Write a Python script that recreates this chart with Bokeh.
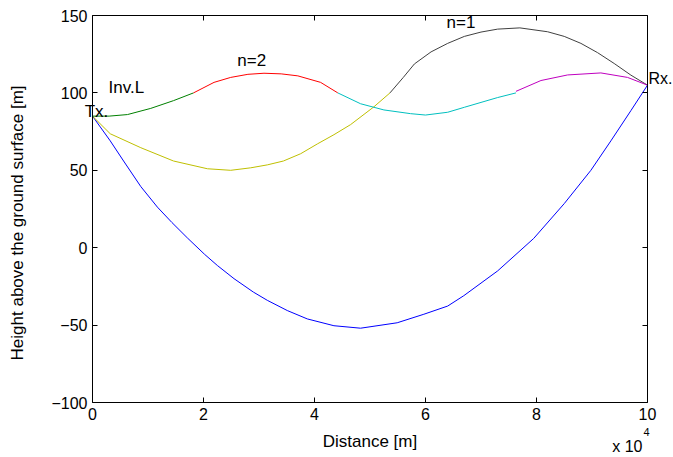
import math
from bokeh.plotting import figure
from bokeh.models import LinearAxis, FixedTicker, Label
from bokeh.embed import file_html
from bokeh.resources import INLINE

# Distance in units of 1e4 m, heights in m above the ground surface
inv_x = [0, 0.32, 0.56, 0.87, 1.17, 1.43, 1.71, 2.02, 2.25, 2.55, 2.9, 3.15, 3.51, 3.87,
         4.35, 4.83, 5.49, 5.97, 6.4, 6.69, 7.3, 7.95, 8.5, 8.98, 9.34, 9.7, 10]
inv_y = [85, 69, 56, 39.5, 26.2, 16.3, 6.3, -4.3, -11.5, -20, -28.7, -34, -40.6, -46,
         -50.4, -52, -48.5, -43, -37.7, -31, -15, 6, 28.5, 50, 69, 88.5, 105]

low_x = [0, 0.32, 0.87, 1.46, 2.07, 2.49, 2.85, 3.15, 3.44, 3.75, 4.05, 4.35, 4.65, 5.07, 5.36]
low_y = [85, 73.6, 64.6, 56, 51, 50, 51.6, 53.5, 56, 60.7, 67, 73, 79.5, 91, 100]

n1_x = [5.36, 5.6, 5.8, 6.1, 6.4, 6.7, 7.0, 7.3, 7.7, 8.2, 8.5, 8.8, 9.1, 9.4, 9.7, 10]
n1_y = [100, 110, 118.7, 126.5, 132, 136.5, 139.3, 141.2, 142, 139.5, 136.5, 132, 126, 119, 111.5, 105]

green_x = [0, 0.3, 0.63, 1.05, 1.46, 1.82]
green_y = [85, 85, 86, 90, 95, 100]

red_x = [1.82, 2.19, 2.49, 2.8, 3.09, 3.4, 3.7, 4.11, 4.42]
red_y = [100, 106.8, 110, 112, 112.7, 112.3, 111, 106.8, 100]

cyan_x = [4.42, 4.83, 5.25, 5.73, 6.0, 6.4, 6.7, 7.3, 7.63]
cyan_y = [100, 93, 89, 86.6, 85.7, 87.5, 90.7, 97, 100]

mag_x = [7.63, 8.08, 8.56, 9.16, 9.64, 10]
mag_y = [101, 108, 111.6, 112.9, 110, 105]

x_ticks = [0, 2, 4, 6, 8, 10]
y_ticks = [-100, -50, 0, 50, 100, 150]
X0, X1 = 0, 10
Y0, Y1 = -100, 150

FONT = "Liberation Sans"
W, H = 673, 457
# box of the axes inside the canvas, in pixels
BOX_L, BOX_R, BOX_T, BOX_B = 92, 647, 15, 402
sx = (BOX_R - BOX_L) / (X1 - X0)
sy = (BOX_B - BOX_T) / (Y1 - Y0)
x_range = (X0 - BOX_L / sx, X1 + (W - BOX_R) / sx)
y_range = (Y0 - (H - BOX_B) / sy, Y1 + BOX_T / sy)

p = figure(width=W, height=H, x_range=x_range, y_range=y_range,
           output_backend="svg", toolbar_location=None,
           x_axis_location=None, y_axis_location=None,
           min_border=0)
p.title.visible = False
p.xgrid.visible = False
p.ygrid.visible = False
p.outline_line_color = None
p.background_fill_color = "white"
p.border_fill_color = "white"


def box_axis(ticks, loc, bounds, labels=True):
    ax = LinearAxis(ticker=FixedTicker(ticks=ticks), fixed_location=loc, bounds=bounds)
    ax.major_tick_in = 5
    ax.major_tick_out = 0
    ax.minor_tick_line_color = None
    ax.axis_line_color = "black"
    ax.major_tick_line_color = "black"
    ax.major_label_standoff = 5
    if labels:
        ax.major_label_text_font = FONT
        ax.major_label_text_font_size = "16px"
        ax.major_label_text_color = "black"
        ax.axis_label_text_font = FONT
        ax.axis_label_text_font_size = "17px"
        ax.axis_label_text_font_style = "normal"
        ax.axis_label_text_color = "black"
    else:
        ax.major_label_text_font_size = "0px"
        ax.major_label_text_color = None
    return ax


bottom = box_axis(x_ticks, Y0, (X0, X1))
bottom.axis_label = "Distance [m]"
bottom.axis_label_standoff = 9
left = box_axis(y_ticks, X0, (Y0, Y1))
top = box_axis(x_ticks, Y1, (X0, X1), labels=False)
right = box_axis(y_ticks, X1, (Y0, Y1), labels=False)
p.add_layout(bottom, "below")
p.add_layout(left, "left")
p.add_layout(top, "above")
p.add_layout(right, "right")

p.line(inv_x, inv_y, line_color="#0000ff", line_width=1)
p.line(low_x, low_y, line_color="#bfbf00", line_width=1)
p.line(n1_x, n1_y, line_color="#404040", line_width=1)
p.line(green_x, green_y, line_color="#008000", line_width=1)
p.line(red_x, red_y, line_color="#ff0000", line_width=1)
p.line(cyan_x, cyan_y, line_color="#00bfbf", line_width=1)
p.line(mag_x, mag_y, line_color="#bf00bf", line_width=1)


def txt(x, y, s, size="17px", **kw):
    p.add_layout(Label(x=x, y=y, text=s, text_font=FONT, text_font_size=size,
                       text_color="black", **kw))


# y axis title, set a little below the middle of the axis
txt(X0, 16, "Height above the ground surface [m]", x_offset=-75, angle=math.pi / 2,
    text_align="center", text_baseline="middle")

txt(6.38, 145.5, "n=1", text_baseline="middle")
txt(2.61, 121, "n=2", text_baseline="middle")
txt(0.29, 103.4, "Inv.L", text_baseline="middle")
txt(-0.14, 88, "Tx.", text_baseline="middle")
txt(X1, 109.2, "Rx.", size="16px", x_offset=1, text_baseline="middle")

# axis multiplier below the right end of the x axis
txt(X1, Y0, "x 10", size="16px", x_offset=-5, y_offset=-44,
    text_align="right", text_baseline="alphabetic")
txt(X1, Y0, "4", size="11px", x_offset=-4, y_offset=-29,
    text_align="left", text_baseline="alphabetic")

open("out.html", "w").write(file_html(p, INLINE))
